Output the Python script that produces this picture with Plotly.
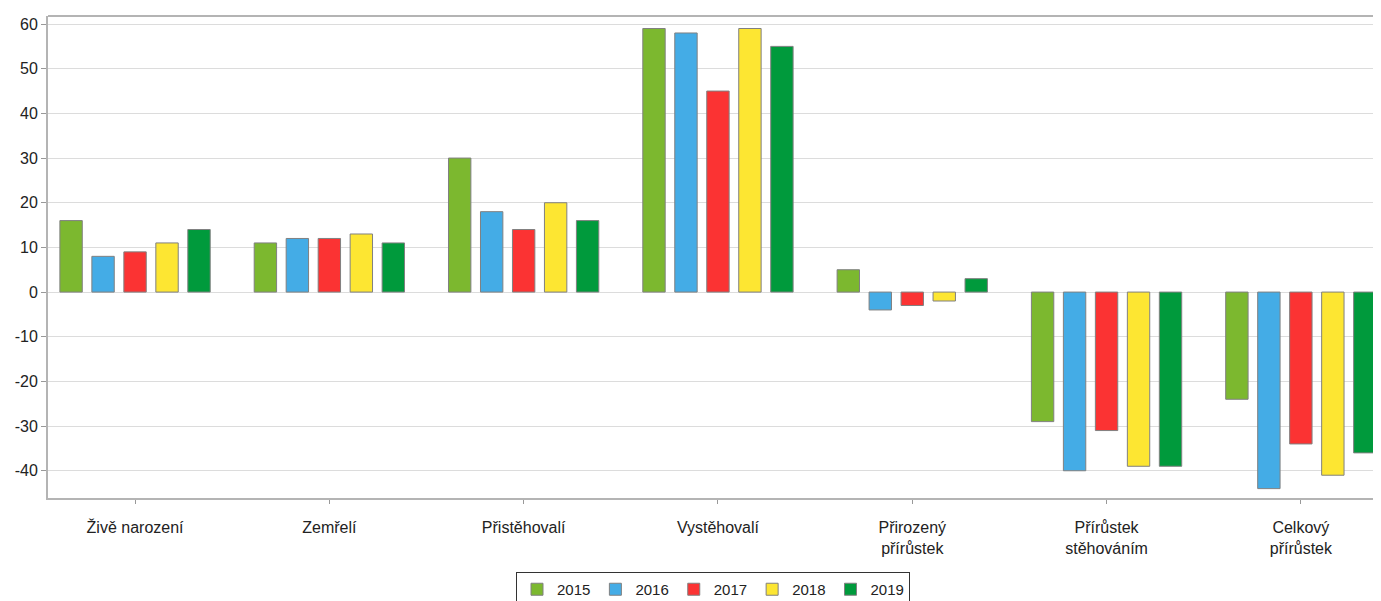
import plotly.graph_objects as go

categories = ["Živě narození", "Zemřelí", "Přistěhovalí", "Vystěhovalí",
              "Přirozený<br>přírůstek", "Přírůstek<br>stěhováním", "Celkový<br>přírůstek"]
years = ["2015", "2016", "2017", "2018", "2019"]
v2015 = [16, 11, 30, 59, 5, -29, -24]
v2016 = [8, 12, 18, 58, -4, -40, -44]
v2017 = [9, 12, 14, 45, -3, -31, -34]
v2018 = [11, 13, 20, 59, -2, -39, -41]
v2019 = [14, 11, 16, 55, 3, -39, -36]
colors = ["#7cb82f", "#44ace6", "#fb3333", "#fde632", "#009a3c"]
series = [v2015, v2016, v2017, v2018, v2019]
tick_vals = [-40, -30, -20, -10, 0, 10, 20, 30, 40, 50, 60]
tick_text = ["-40", "-30", "-20", "-10", "0", "10", "20", "30", "40", "50", "60"]

fig = go.Figure()
for name, vals, col in zip(years, series, colors):
    fig.add_trace(go.Bar(x=categories, y=vals, name=name,
                         marker=dict(color=col, line=dict(color="#808080", width=1))))

fig.update_layout(
    width=1373, height=593,
    margin=dict(l=40, r=3, t=8, b=103, autoexpand=False),
    paper_bgcolor="white", plot_bgcolor="white",
    barmode="group", bargap=0.177, bargroupgap=0.30,
    font=dict(family="Liberation Sans, Arial, sans-serif", size=16, color="#222"),
    showlegend=True,
    legend=dict(orientation="h", x=0.5, xanchor="center", y=-0.1535, yanchor="top",
                bordercolor="#333", borderwidth=1, font=dict(size=15),
                itemwidth=30, tracegroupgap=0, traceorder="normal"),
    xaxis=dict(range=[-0.448, 6.397], showline=True, linecolor="#b4b4b4", linewidth=2,
               mirror=False, ticks="outside", ticklen=4, tickcolor="#999", showgrid=False,
               tickfont=dict(size=16), ticklabelstandoff=10, automargin=False),
    yaxis=dict(range=[-46.1, 61.8], tickvals=tick_vals, ticktext=tick_text, showgrid=True,
               gridcolor="#dcdcdc", gridwidth=1, zeroline=True, zerolinecolor="#dcdcdc",
               zerolinewidth=1, showline=True, linecolor="#b4b4b4", linewidth=2,
               ticks="outside", ticklen=5, tickcolor="#999", tickfont=dict(size=16),
               automargin=False),
)
fig.add_shape(type="line", xref="paper", yref="paper", x0=0, x1=1, y0=1, y1=1,
              line=dict(color="#b4b4b4", width=2))

fig.write_html("out.html")
